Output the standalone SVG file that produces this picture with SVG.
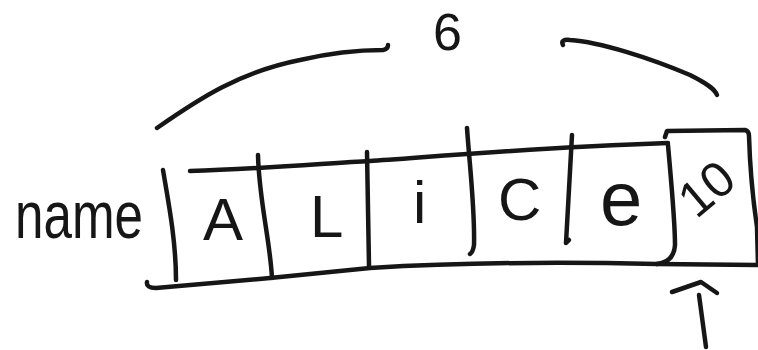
<svg xmlns="http://www.w3.org/2000/svg" width="758" height="350" viewBox="0 0 758 350">
  <style>
    .ink { fill: none; stroke: #161616; stroke-width: 4.5; stroke-linecap: round; stroke-linejoin: round; }
    .hand { font-family: "Liberation Sans", "DejaVu Sans", sans-serif; fill: #161616; }
  </style>
  <rect width="758" height="350" fill="#ffffff"/>

  <g id="label-name">
    <text class="hand" x="15" y="238" font-size="66" textLength="128" lengthAdjust="spacingAndGlyphs">name</text>
  </g>

  <g id="size-label">
    <text class="hand" x="433" y="50" font-size="52">6</text>
  </g>

  <g id="array">
    <path class="ink" d="M190,171 C260,169 330,163 370,161 S520,148 668,143"/>
    <path class="ink" d="M163,170 C168,200 176,240 176,280"/>
    <path class="ink" d="M147,282 Q146,288 156,288 L270,278 L370,268 C470,262 570,262 657,264"/>
    <path class="ink" d="M668,145 C671,180 675,220 675,245 Q674,262 657,264"/>
    <path class="ink" d="M258,155 C259,200 270,240 272,278"/>
    <path class="ink" d="M367,152 L369,266"/>
    <path class="ink" d="M467,128 C470,170 475,210 474,245 Q473,252 470,254"/>
    <path class="ink" d="M572,135 L566,243 L569,240"/>
  </g>

  <g id="cell-A"><text class="hand" x="203" y="240" font-size="60">A</text></g>
  <g id="cell-L"><text class="hand" x="310" y="237" font-size="60">L</text></g>
  <g id="cell-i"><text class="hand" x="413" y="223" font-size="60">i</text></g>
  <g id="cell-C"><text class="hand" x="498" y="220" font-size="60">C</text></g>
  <g id="cell-e"><text class="hand" x="600" y="225" font-size="76">e</text></g>

  <g id="cell-10">
    <path class="ink" d="M665,137 L667,131 L745,130 Q749,131 749,136 C750,170 753,200 757,227 L758,265"/>
    <path class="ink" d="M657,264 L757,265"/>
    <text class="hand" x="706" y="206" font-size="50" text-anchor="middle" transform="rotate(-40 706 188)">10</text>
  </g>

  <g id="connectors">
    <path class="ink" d="M157,128 C200,98 240,72 300,60 C330,53 360,50 383,50 Q388,49 388,45"/>
    <path class="ink" d="M563,45 Q560,39 570,40 C600,42 650,58 690,75 C710,85 715,90 717,95"/>
    <path class="ink" d="M672,292 L701,282 L717,293"/>
    <path class="ink" d="M699,295 L706,347"/>
  </g>
</svg>
